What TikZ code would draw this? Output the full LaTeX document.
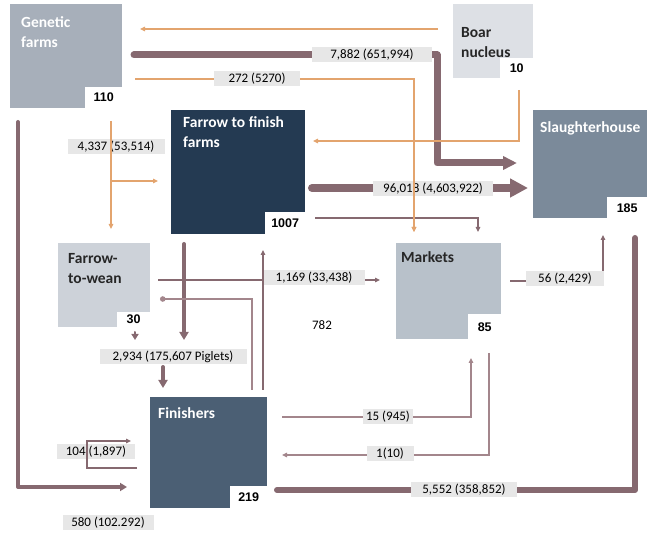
\documentclass[tikz,border=0pt]{standalone}
\usepackage{fontspec}
\setmainfont{Carlito}
\newfontfamily\numfont{Liberation Sans}
\usetikzlibrary{arrows.meta}
\definecolor{geneticfill}{HTML}{A7AFBA}
\definecolor{f2ffill}{HTML}{243A52}
\definecolor{boarfill}{HTML}{DDE0E5}
\definecolor{slaughterfill}{HTML}{7B8A9A}
\definecolor{f2wfill}{HTML}{CDD2D9}
\definecolor{finisherfill}{HTML}{4B5F74}
\definecolor{marketfill}{HTML}{B8C1CA}
\definecolor{pigbrown}{HTML}{866970}
\definecolor{palebrown}{HTML}{A3868C}
\definecolor{breedorange}{HTML}{E3A46E}
\definecolor{flowgray}{HTML}{E7E7E7}
\begin{document}
\begin{tikzpicture}[x=1pt, y=-1pt, font=\fontsize{13}{15}\selectfont]
        \tikzset{
            farm/.style={
                anchor=north west,
                inner sep=0pt
            },
            title/.style={
                anchor=north west,
                inner sep=0pt,
                align=left,
                text=white,
                font=\fontsize{15.5}{20}\selectfont\bfseries
            },
            count/.style={
                anchor=south east,
                fill=white,
                inner sep=0pt,
                minimum width=37pt,
                minimum height=21pt,
                font=\numfont\fontsize{12.5}{14}\selectfont\bfseries
            },
            flow/.style={
                fill=flowgray,
                inner sep=0pt,
                minimum height=15pt,
                text height=9.5pt,
                text depth=3pt
            },
            pipe/.style={draw=pigbrown, line cap=round, line join=round},
            midarrow/.style={pipe, line width=4pt, -{Triangle[length=8pt, width=9pt]}},
            thinarrow/.style={draw=pigbrown, line width=1.2pt, -{Triangle[length=5pt, width=4.5pt]}},
            palearrow/.style={draw=palebrown, line width=1.2pt, -{Triangle[length=5pt, width=4.5pt]}},
            orangearrow/.style={draw=breedorange, line width=1.2pt, -{Triangle[length=5pt, width=4.5pt]}}
        }

        \useasboundingbox (0,0) rectangle (649,537);

        \node[farm, fill=geneticfill, minimum width=112pt, minimum height=104pt,
            label={[title, xshift=11pt, yshift=-12pt]north west:Genetic\\farms}] (gf) at (10,4) {};
        \node[farm, fill=f2ffill, minimum width=134pt, minimum height=124pt,
            label={[title, xshift=12pt, yshift=-6pt]north west:Farrow to finish\\farms}] (ff) at (171,110) {};
        \node[farm, fill=boarfill, minimum width=80pt, minimum height=74pt,
            label={[title, text=black!85, xshift=8pt, yshift=-23pt]north west:Boar\\nucleus}] (bn) at (453,4) {};
        \node[farm, fill=slaughterfill, minimum width=114pt, minimum height=108pt,
            label={[title, xshift=7pt, yshift=-11pt]north west:Slaughterhouse}] (sl) at (533,110) {};
        \node[farm, fill=f2wfill, minimum width=92pt, minimum height=84pt,
            label={[title, text=black!85, xshift=10pt, yshift=-10pt]north west:Farrow-\\to-wean}] (fw) at (58,243) {};
        \node[farm, fill=finisherfill, minimum width=117pt, minimum height=111pt,
            label={[title, xshift=8pt, yshift=-10pt]north west:Finishers}] (fin) at (150,397) {};
        \node[farm, fill=marketfill, minimum width=105pt, minimum height=96pt,
            label={[title, text=black!85, xshift=5pt, yshift=-8pt]north west:Markets}] (mk) at (396,243) {};

        \node[count] (gf-n) at (gf.south east) {110};
        \node[count, minimum width=40pt, minimum height=22pt] (ff-n) at (ff.south east) {1007};
        \node[count, minimum width=33pt, minimum height=20pt] (bn-n) at (bn.south east) {10};
        \node[count, minimum width=40pt] (sl-n) at (sl.south east) {185};
        \node[count, minimum width=33pt, minimum height=15pt] (fw-n) at (fw.south east) {30};
        \node[count, minimum height=22pt] (fin-n) at (fin.south east) {219};
        \node[count, minimum width=33pt, minimum height=25pt] (mk-n) at (mk.south east) {85};

        \coordinate (bn-out1) at (438,29);   \coordinate (gf-in1) at (140,29);
        \coordinate (gf-out1) at (134,55);   \coordinate (k-gfsl) at (437,163);
        \coordinate (sl-in1) at (517,163);
        \coordinate (gf-out2) at (135,79);   \coordinate (mk-in1) at (414,232);
        \coordinate (bn-out2) at (519,90);   \coordinate (ff-in1) at (313,141);
        \coordinate (gf-out3) at (111,121);  \coordinate (fw-in1) at (111,229);
        \coordinate (k-gfff) at (111,181);   \coordinate (ff-in2) at (158,181);
        \coordinate (ff-out1) at (312,188);  \coordinate (sl-in2) at (528,188);
        \coordinate (ff-out2) at (315,218);  \coordinate (mk-in2) at (478,232);
        \coordinate (gf-out4) at (18,122);   \coordinate (fin-in1) at (127,487);
        \coordinate (ff-out3) at (184,244);  \coordinate (pig-in1) at (184,340);
        \coordinate (fw-out1) at (135,332);  \coordinate (pig-in2) at (135,340);
        \coordinate (pig-out) at (163,367);  \coordinate (fin-in2) at (163,388);
        \coordinate (fw-out2) at (158,280);  \coordinate (mk-in3) at (380,280);
        \coordinate (fin-out1) at (263,390); \coordinate (ff-in3) at (263,250);
        \coordinate (fw-out3) at (160,299);  \coordinate (fin-in3) at (252,390);
        \coordinate (fin-out2) at (282,417); \coordinate (mk-in4) at (471,358);
        \coordinate (mk-out1) at (489,353);  \coordinate (fin-in4) at (282,455);
        \coordinate (mk-out2) at (510,281);  \coordinate (sl-in3) at (603,235);
        \coordinate (fin-out3) at (277,490); \coordinate (sl-in4) at (635,238);
        \coordinate (fin-out4) at (137,468); \coordinate (k-loop) at (87,441);
        \coordinate (fin-in5) at (131,441);

        \draw[orangearrow] (bn-out1) -- (gf-in1);
        \draw[pipe, line width=7pt, -{Triangle[length=14pt, width=13pt]}]
            (gf-out1) -| (k-gfsl) -- (sl-in1);
        \draw[orangearrow] (gf-out2) -| (mk-in1);
        \draw[orangearrow] (bn-out2) |- (ff-in1);
        \draw[pipe, line width=8pt, -{Triangle[length=18pt, width=18pt]}] (ff-out1) -- (sl-in2);
        \draw[thinarrow] (ff-out2) -| (mk-in2);
        \draw[pipe, line width=4pt, -{Triangle[length=7pt, width=8pt]}] (gf-out4) |- (fin-in1);
        \draw[midarrow] (ff-out3) -- (pig-in1);
        \draw[pipe, line width=2pt, -{Triangle[length=6pt, width=7pt]}] (fw-out1) -- (pig-in2);
        \draw[midarrow] (pig-out) -- (fin-in2);
        \draw[thinarrow] (fw-out2) -- (mk-in3);
        \draw[draw=palebrown, line width=1.2pt, {Circle[length=5.5pt, width=5.5pt]}-] (fw-out3) -| (fin-in3);
        \draw[palearrow] (fin-out2) -| (mk-in4);
        \draw[palearrow] (mk-out1) |- (fin-in4);
        \draw[thinarrow] (mk-out2) -| (sl-in3);
        \draw[pipe, line width=6pt] (fin-out3) -| (sl-in4);

        \node[flow, minimum width=120pt] (f-gf-sl) at (372,55) {7,882 (651,994)};
        \node[flow, minimum width=86pt] (f-gf-mk) at (257,79) {272 (5270)};
        \node[flow, minimum width=97pt] (f-gf-ff) at (116,147) {4,337 (53,514)};
        \node[flow, minimum width=120pt] (f-ff-sl) at (433,189) {96,018 (4,603,922)};
        \node[flow, minimum width=102pt] (f-fw-mk) at (314,278) {1,169 (33,438)};
        \node[flow, minimum width=78pt] (f-mk-sl) at (565,279) {56 (2,429)};
        \node[flow, minimum width=147pt] (f-pig) at (173,357) {2,934 (175,607 Piglets)};
        \node[flow, minimum width=50pt] (f-fin-mk) at (388,417) {15 (945)};
        \node[flow, minimum width=47pt] (f-mk-fin) at (390,454) {1(10)};
        \node[flow, minimum width=106pt] (f-fin-sl) at (464,490) {5,552 (358,852)};
        \node[flow, minimum width=78pt] (f-fin-fin) at (96,452) {104 (1,897)};
        \node[flow, minimum width=91pt] (f-gf-fin) at (108,523) {580 (102.292)};
        \node (n782) at (322,325) {782};

        \draw[orangearrow] (gf-out3) -- (fw-in1);
        \draw[orangearrow] (k-gfff) -- (ff-in2);
        \draw[orangearrow] (414,100) -- (mk-in1);
        \draw[thinarrow] (fin-out1) -- (ff-in3);
        \draw[thinarrow] (fin-out4) -| (k-loop) -- (fin-in5);
    \end{tikzpicture}
\end{document}
